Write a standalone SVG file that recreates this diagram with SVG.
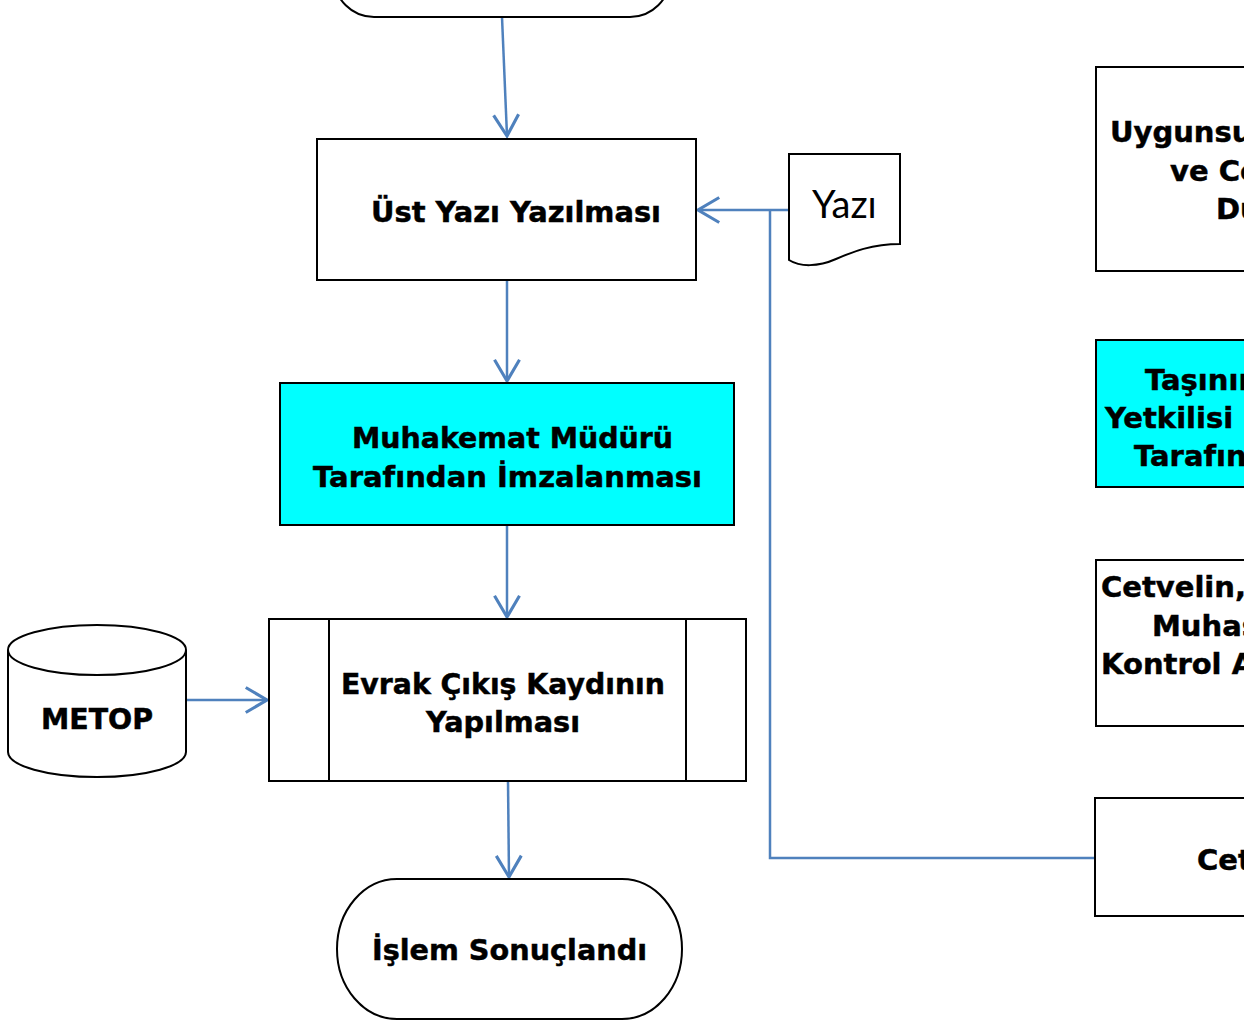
<svg xmlns="http://www.w3.org/2000/svg" width="1258" height="1026" viewBox="0 0 1258 1026">
<style>
.box{fill:#fff;stroke:#000;stroke-width:2}
.cyan{fill:#00FFFF;stroke:#000;stroke-width:2}
.t{font-family:"DejaVu Sans","Verdana",sans-serif;font-weight:bold;font-size:29px;fill:#000;stroke:#000;stroke-width:0.5}
.c{stroke:#4F81BD;stroke-width:2.5;fill:none}
.doc{font-family:Lato,"Open Sans",sans-serif;font-size:38px;fill:#000}
</style>
<defs>
<marker id="ah" markerUnits="userSpaceOnUse" markerWidth="30" markerHeight="30" refX="0" refY="0" viewBox="-20 -12 22 24" orient="auto" overflow="visible">
<path d="M-17,-10 L0,0 L-17,10" fill="none" stroke="#4F81BD" stroke-width="2.5"/>
</marker>
<clipPath id="rc"><rect x="0" y="0" width="1244" height="1026"/></clipPath>
</defs>
<rect width="1258" height="1026" fill="#fff"/>

<g id="connectors">
<path class="c" d="M502,17 L507,136" marker-end="url(#ah)"/>
<path class="c" d="M507,280 L507,381" marker-end="url(#ah)"/>
<path class="c" d="M507,525 L507,617" marker-end="url(#ah)"/>
<path class="c" d="M186,700 L267,700" marker-end="url(#ah)"/>
<path class="c" d="M508,781 L509,877" marker-end="url(#ah)"/>
<path class="c" d="M789,210 L698,210" marker-end="url(#ah)"/>
<path class="c" d="M770,210 L770,858 L1095,858"/>
</g>

<g id="start">
<rect class="box" x="334" y="-100" width="336" height="117" rx="40" ry="40"/>
</g>

<g id="ust-yazi">
<rect class="box" x="317" y="139" width="379" height="141"/>
<text class="t" x="371" y="222" textLength="290" lengthAdjust="spacingAndGlyphs">Üst Yazı Yazılması</text>
</g>

<g id="yazi-doc">
<path class="box" d="M789,154 H900 V244 C872,244 852,252 836,259 C818,267 800,267 789,260 Z"/>
<text class="doc" x="812" y="218">Yazı</text>
</g>

<g id="imza">
<rect class="cyan" x="280" y="383" width="454" height="142"/>
<text class="t" x="352" y="448" textLength="321" lengthAdjust="spacingAndGlyphs">Muhakemat Müdürü</text>
<text class="t" x="313" y="487" textLength="389" lengthAdjust="spacingAndGlyphs">Tarafından İmzalanması</text>
</g>

<g id="evrak">
<rect class="box" x="269" y="619" width="477" height="162"/>
<line x1="329" y1="619" x2="329" y2="781" stroke="#000" stroke-width="2"/>
<line x1="686" y1="619" x2="686" y2="781" stroke="#000" stroke-width="2"/>
<text class="t" x="341" y="694" textLength="324" lengthAdjust="spacingAndGlyphs">Evrak Çıkış Kaydının</text>
<text class="t" x="426" y="732" textLength="154" lengthAdjust="spacingAndGlyphs">Yapılması</text>
</g>

<g id="metop">
<path class="box" d="M8,650 A89,25 0 0 1 186,650 V752 A89,25 0 0 1 8,752 Z"/>
<path d="M8,650 A89,25 0 0 0 186,650" fill="none" stroke="#000" stroke-width="2"/>
<text class="t" x="41" y="729" textLength="112" lengthAdjust="spacingAndGlyphs">METOP</text>
</g>

<g id="end">
<rect class="box" x="337" y="879" width="345" height="140" rx="60" ry="70"/>
<text class="t" x="372" y="960" textLength="275" lengthAdjust="spacingAndGlyphs">İşlem Sonuçlandı</text>
</g>

<g clip-path="url(#rc)">
<g id="uygunsuz">
<rect class="box" x="1096" y="67" width="300" height="204"/>
<text class="t" x="1110" y="142">Uygunsuz</text>
<text class="t" x="1170" y="181">ve Cet</text>
<text class="t" x="1216" y="219">Dü</text>
</g>
<g id="tasinir">
<rect class="cyan" x="1096" y="340" width="300" height="147"/>
<text class="t" x="1145" y="390">Taşınır</text>
<text class="t" x="1105" y="428">Yetkilisi</text>
<text class="t" x="1134" y="466">Tarafın</text>
</g>
<g id="cetvelin">
<rect class="box" x="1096" y="560" width="300" height="166"/>
<text class="t" x="1101" y="597">Cetvelin,</text>
<text class="t" x="1152" y="636">Muhase</text>
<text class="t" x="1101" y="674">Kontrol A</text>
</g>
<g id="cet">
<rect class="box" x="1095" y="798" width="300" height="118"/>
<text class="t" x="1197" y="870">Cet</text>
</g>
</g>
</svg>
